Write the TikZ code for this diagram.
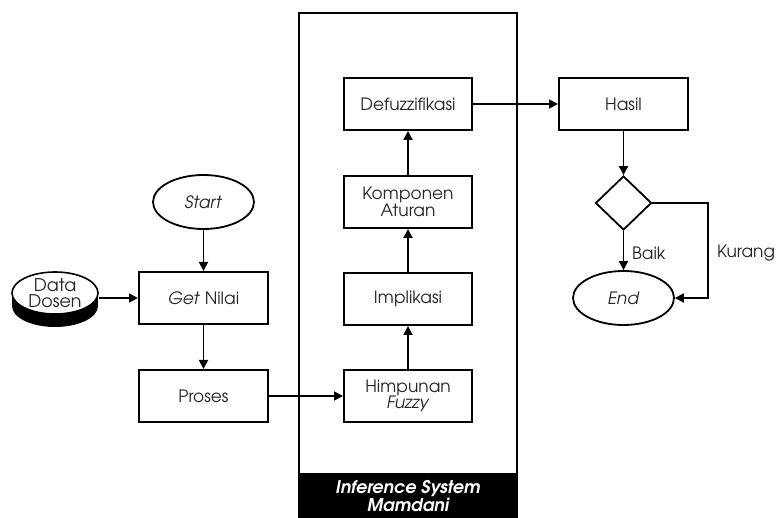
\documentclass[tikz,border=0pt]{standalone}
\usepackage{fontspec}
\setmainfont{texgyreadventor-regular.otf}[
  BoldFont=texgyreadventor-bold.otf,
  ItalicFont=texgyreadventor-italic.otf,
  BoldItalicFont=texgyreadventor-bolditalic.otf]
\usetikzlibrary{shapes.geometric, arrows.meta}

\tikzset{
  base/.style={font=\fontsize{17pt}{16.5pt}\selectfont, align=center, inner sep=0pt, text=black!85},
  procbox/.style={base, draw=black, line width=2pt, fill=white, minimum width=128pt, minimum height=52pt},
  terminal/.style={base, ellipse, draw=black, line width=1.8pt, minimum width=101pt, minimum height=54pt},
  decision/.style={diamond, draw=black, line width=1.8pt, minimum width=56pt, minimum height=54pt, inner sep=0pt},
  flow/.style={line width=1.8pt, -{Triangle[length=9pt, width=9pt]}},
  lbl/.style={base}
}

\begin{document}
\begin{tikzpicture}[x=1pt, y=-1pt]
\useasboundingbox (0,0) rectangle (779,518);

% Mamdani inference frame with its caption band
\node[draw=black, line width=2pt, minimum width=218pt, minimum height=512pt, anchor=north] (fis) at (408,12) {};
\node[fill=black, minimum width=218pt, minimum height=46pt, anchor=north, inner sep=0pt,
      font=\fontsize{17.5pt}{17.5pt}\selectfont\bfseries\itshape, text=white, align=center] (fisband) at (408,473)
      {Inference System\\Mamdani};

% left column
\node[terminal] (start) at (203.5,202) {\textit{Start}};
\node[procbox, minimum width=129pt] (get) at (203.5,298) {\textit{Get} Nilai};
\node[procbox, minimum width=129pt] (proses) at (203.5,396) {Proses};

% data store drawn as a short cylinder
\fill[black] (55,306) ellipse [x radius=43, y radius=21];
\fill[black] (12,294) rectangle (98,306);
\node[base, ellipse, draw=black, line width=1.6pt, fill=white, minimum width=86pt, minimum height=42pt,
      font=\fontsize{17.5pt}{16.5pt}\selectfont] (data) at (55,293) {Data\\Dosen};

% inference steps
\node[procbox] (himp) at (408,396) {Himpunan\\\textit{Fuzzy}};
\node[procbox] (impl) at (408,299) {Implikasi};
\node[procbox] (komp) at (408,202) {Komponen\\Aturan};
\node[procbox] (defuz) at (408,104) {Defuzzifikasi};

% output and decision
\node[procbox, minimum width=129pt] (hasil) at (623.5,104) {Hasil};
\node[decision] (dec) at (623.5,203) {};
\node[terminal] (end) at (623.5,298) {\textit{End}};
\coordinate (kr) at (708,203);

% connectors
\draw[flow] (start) -- (get);
\draw[flow] (get) -- (proses);
\draw[flow] (get.west -| data.east) -- (get.west);
\draw[flow] (proses) -- (himp);
\draw[flow] (himp) -- (impl);
\draw[flow] (impl) -- (komp);
\draw[flow] (komp) -- (defuz);
\draw[flow] (defuz) -- (hasil);
\draw[flow] (hasil) -- (dec);
\draw[flow] (dec) -- (end);
\draw[flow] (dec.east) -- (kr) |- (end.east);

\node[lbl, anchor=west] (baik) at (632,253) {Baik};
\node[lbl, anchor=west] (kurang) at (717,253) {Kurang};
\end{tikzpicture}
\end{document}
